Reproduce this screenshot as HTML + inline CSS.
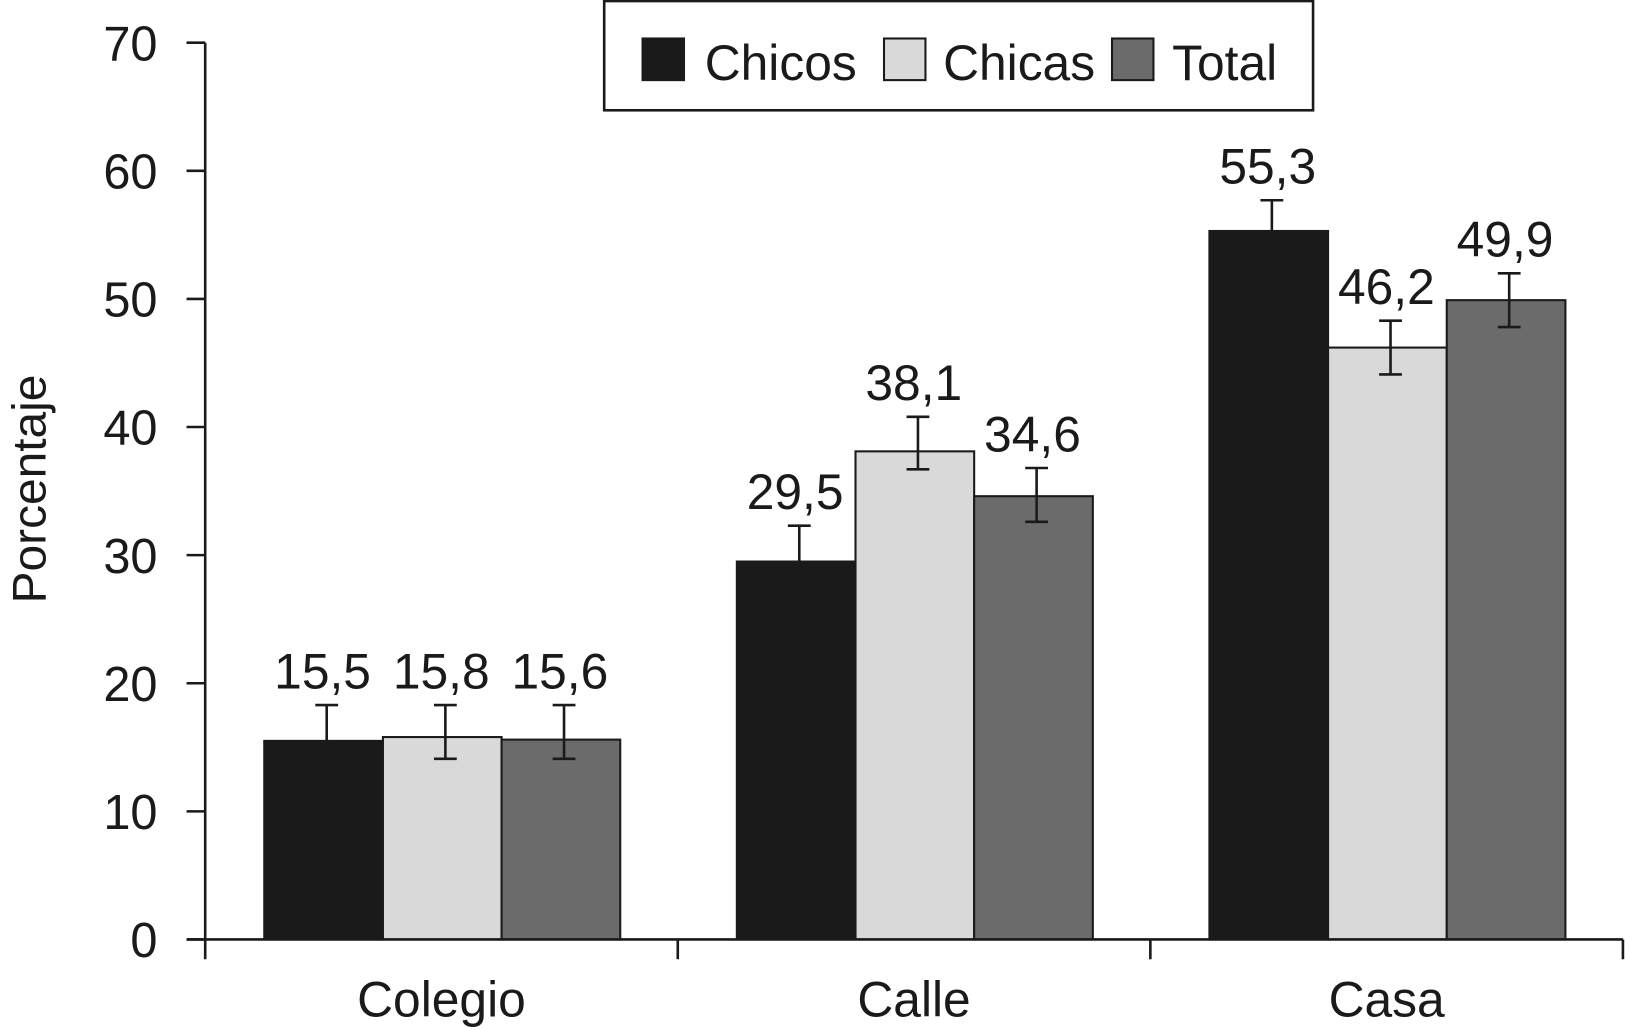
<!DOCTYPE html>
<html><head><meta charset="utf-8"><style>html,body{margin:0;padding:0;background:#fff}svg{display:block}text{font-family:"Liberation Sans",Arial,sans-serif;fill:#1a1a1a}</style></head>
<body>
<svg id="chart" width="1625" height="1030" viewBox="0 0 1568 990" preserveAspectRatio="none" xmlns="http://www.w3.org/2000/svg"></svg>
<script>
const categories = ["Colegio", "Calle", "Casa"];
const seriesNames = ["Chicos", "Chicas", "Total"];
const chicos = [15.5, 29.5, 55.3];
const chicas = [15.8, 38.1, 46.2];
const total = [15.6, 34.6, 49.9];
const valueLabels = [["15,5","15,8","15,6"],["29,5","38,1","34,6"],["55,3","46,2","49,9"]];
const errHigh = [[18.3, 18.3, 18.3],[32.3, 40.8, 36.8],[57.7, 48.3, 52.0]];
const errLow = [[13.0, 14.1, 14.1],[27.0, 36.7, 32.6],[53.0, 44.1, 47.8]];
const yTicks = [0, 10, 20, 30, 40, 50, 60, 70];

const NS = "http://www.w3.org/2000/svg";
const svg = document.getElementById("chart");
const series = [chicos, chicas, total];
const colors = ["#1a1a1a", "#d9d9d9", "#6b6b6b"];
const y = v => 903 - v * (862 / 70);
const groupW = 456, x0 = 198, barW = 114.5;
const barX = (c, s) => x0 + c * groupW + 57 + s * barW;
function mk(tag, attrs, parent) { const e = document.createElementNS(NS, tag); for (const k in attrs) e.setAttribute(k, attrs[k]); (parent || svg).appendChild(e); return e; }

// y axis
let e = mk("line", {x1: x0, y1: 41, x2: x0, y2: 903, stroke: "#1a1a1a", "stroke-width": 2.5});


yTicks.forEach(t => {
  const tk = mk("line", {x1: 180, y1: y(t), x2: x0, y2: y(t), stroke: "#1a1a1a", "stroke-width": 2.5});
  
  
  const tl = mk("text", {x: 152, y: y(t) + 17, "font-size": 47, "text-anchor": "end"});
  tl.textContent = t;
  
  
});
e = mk("text", {x: 0, y: 0, "font-size": 46, "text-anchor": "middle", transform: "translate(44,470) rotate(-90)"});
e.textContent = "Porcentaje";



// bars
categories.forEach((cat, c) => {
  series.forEach((vals, s) => {
    const b = mk("rect", {x: barX(c, s), y: y(vals[c]), width: barW, height: y(0) - y(vals[c]), fill: colors[s], stroke: "#1a1a1a", "stroke-width": 2});
    
    
    const cx = barX(c, s) + barW / 2 + 3;
    const g = mk("g", {stroke: "#1a1a1a", "stroke-width": 2.5});
    
    
    mk("line", {x1: cx, y1: y(errHigh[c][s]), x2: cx, y2: y(errLow[c][s])}, g);
    mk("line", {x1: cx - 11, y1: y(errHigh[c][s]), x2: cx + 11, y2: y(errHigh[c][s])}, g);
    mk("line", {x1: cx - 11, y1: y(errLow[c][s]), x2: cx + 11, y2: y(errLow[c][s])}, g);
    const lb = mk("text", {x: cx - 4, y: y(errHigh[c][s]) - 16, "font-size": 48, "text-anchor": "middle"});
    lb.textContent = valueLabels[c][s];
    
    
  });
  const cl = mk("text", {x: x0 + c * groupW + groupW / 2, y: 977, "font-size": 48, "text-anchor": "middle"});
  cl.textContent = cat;
  
  
});

// x axis
e = mk("line", {x1: 180, y1: 903, x2: 1566, y2: 903, stroke: "#1a1a1a", "stroke-width": 2.5});


for (let i = 0; i <= categories.length; i++) {
  const tk = mk("line", {x1: x0 + i * groupW, y1: 903, x2: x0 + i * groupW, y2: 922, stroke: "#1a1a1a", "stroke-width": 2.5});
  
  
}

// legend
const lg = mk("g", {});


mk("rect", {x: 583, y: 1, width: 684, height: 105, fill: "#fff", stroke: "#1a1a1a", "stroke-width": 2.5}, lg);
const sw = [620, 853, 1073], tx = [680, 910, 1131];
seriesNames.forEach((n, i) => {
  const r = mk("rect", {x: sw[i], y: 37, width: 40, height: 40, fill: colors[i], stroke: "#1a1a1a", "stroke-width": 2}, lg);
  
  
  const t = mk("text", {x: tx[i], y: 77, "font-size": 48}, lg);
  t.textContent = n;
  
  
});
</script>
</body></html>
